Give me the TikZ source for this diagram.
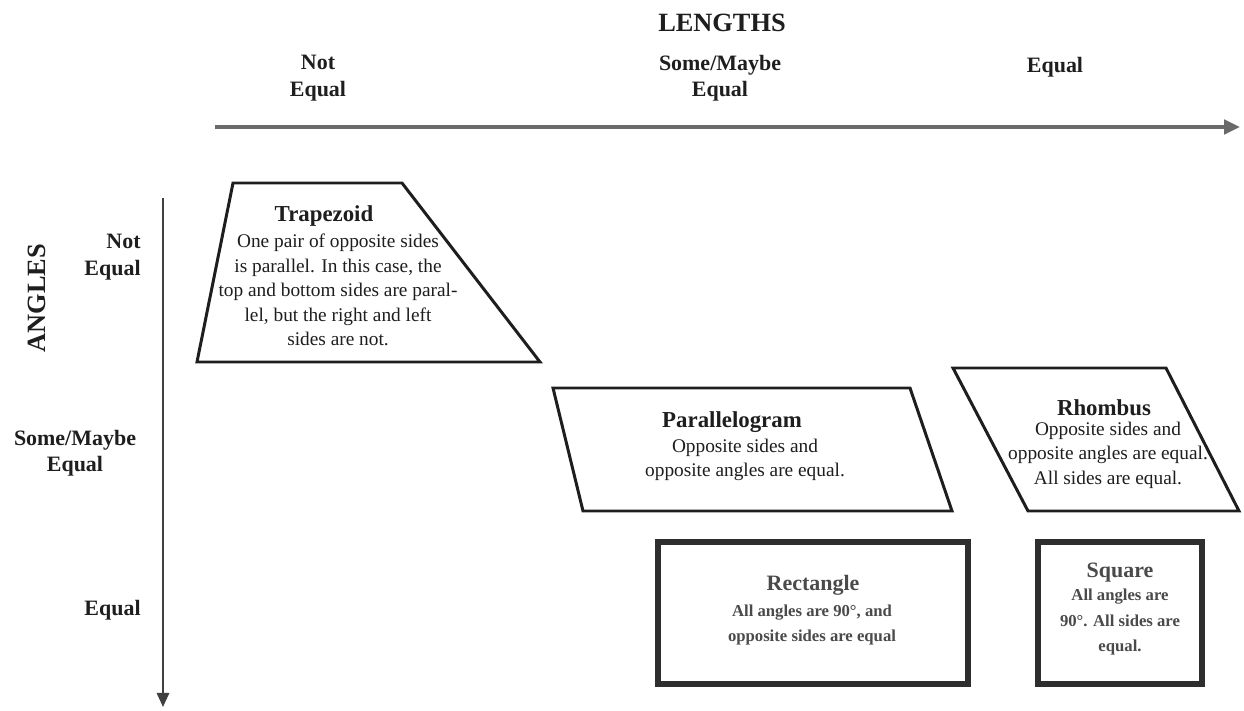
\documentclass[tikz,border=0pt]{standalone}
\usepackage{fontspec}
\setmainfont{Liberation Serif}
\usetikzlibrary{arrows.meta}
\definecolor{axisgray}{HTML}{6A6A6A}
\definecolor{inkdark}{HTML}{1E1E1E}
\definecolor{boxdark}{HTML}{2E2E2E}
\definecolor{softtext}{HTML}{4A4A4A}
\tikzset{
  axisline/.style={draw=axisgray, line width=2.2pt, -{Triangle[length=9pt,width=8pt]}},
  vaxisline/.style={draw=inkdark!85, line width=1.2pt, -{Triangle[length=8pt,width=7pt]}},
  quad/.style={draw=inkdark, line width=1.7pt, line join=miter, fill=white},
  thickbox/.style={draw=boxdark, line width=3pt, fill=white},
  axistitle/.style={font=\fontsize{15}{17}\selectfont\bfseries, text=inkdark},
  axislabel/.style={font=\fontsize{12.5}{15}\selectfont\bfseries, text=inkdark, align=center, inner sep=0pt},
  shapetitle/.style={font=\fontsize{13}{15}\selectfont\bfseries, text=inkdark, inner sep=0pt},
  shapebody/.style={font=\fontsize{11}{14}\selectfont, text=inkdark, align=center, inner sep=0pt},
  greytitle/.style={font=\fontsize{12.5}{15}\selectfont\bfseries, text=softtext, inner sep=0pt},
  greybody/.style={font=\fontsize{9.5}{14.5}\selectfont\bfseries, text=softtext, align=center, inner sep=0pt},
}
\begin{document}
\begin{tikzpicture}[x=0.02cm, y=-0.02cm]
\useasboundingbox (0,0) rectangle (1244,710);

% axes
\coordinate (hstart) at (215,127);
\coordinate (hend) at (1240,127);
\coordinate (vstart) at (163,198);
\coordinate (vend) at (163,707);
\draw[axisline] (hstart) -- (hend);
\draw[vaxisline] (vstart) -- (vend);

% axis titles
\node[axistitle] (lengths) at (722,23) {LENGTHS};
\node[axistitle, rotate=90] (angles) at (37,298) {ANGLES};

% column labels
\node[axislabel] (colnot) at (318,78) {Not\\Equal};
\node[axislabel] (colsome) at (720,78) {Some/Maybe\\Equal};
\node[axislabel] (colequal) at (1055,67) {Equal};

% row labels
\node[axislabel, align=right, anchor=east] (rownot) at (141,257) {Not\\Equal};
\node[axislabel] (rowsome) at (75,453) {Some/Maybe\\Equal};
\node[axislabel, anchor=east] (rowequal) at (141,610) {Equal};

% trapezoid
\draw[quad] (233,183) -- (402,183) -- (540,362) -- (197,362) -- cycle;
\node[shapetitle] (traptitle) at (324,216) {Trapezoid};
\node[shapebody] (trapbody) at (338,290) {One pair of opposite sides\\is parallel. In this case, the\\top and bottom sides are paral-\\lel, but the right and left\\sides are not.};

% parallelogram
\draw[quad] (553,388) -- (910,388) -- (952,511) -- (583,511) -- cycle;
\node[shapetitle] (partitle) at (732,422) {Parallelogram};
\node[shapebody] (parbody) at (745,460) {Opposite sides and\\opposite angles are equal.};

% rhombus
\draw[quad] (953,368) -- (1166,368) -- (1239,511) -- (1028,511) -- cycle;
\node[shapetitle] (rhotitle) at (1104,408) {Rhombus};
\node[shapebody] (rhobody) at (1108,455) {Opposite sides and\\opposite angles are equal.\\All sides are equal.};

% rectangle
\draw[thickbox] (658,542) rectangle (968,684);
\node[greytitle] (recttitle) at (813,585) {Rectangle};
\node[greybody] (rectbody) at (812,625) {All angles are 90°, and\\opposite sides are equal};

% square
\draw[thickbox] (1038,542) rectangle (1202,684);
\node[greytitle] (sqtitle) at (1120,573) {Square};
\node[greybody] (sqbody) at (1120,622) {All angles are\\90°. All sides are\\equal.};
\end{tikzpicture}
\end{document}
